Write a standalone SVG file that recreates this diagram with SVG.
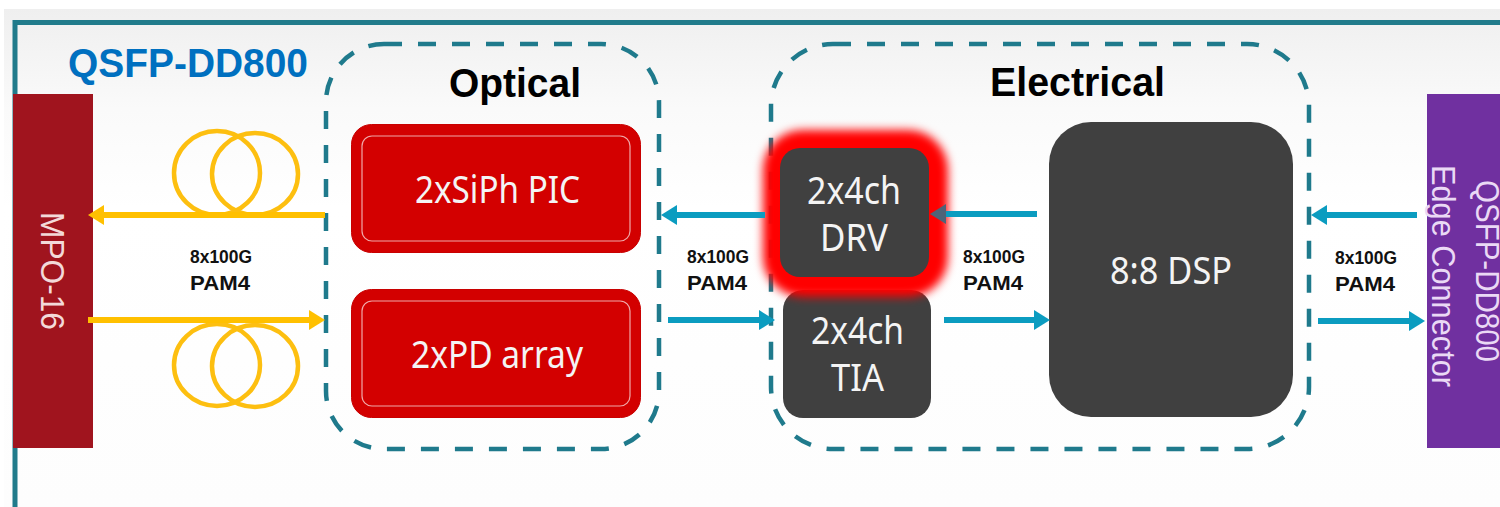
<svg xmlns="http://www.w3.org/2000/svg" width="1500" height="507" viewBox="0 0 1500 507">
<style>
.box{fill:none;stroke:#1f7a8c;stroke-width:4.5;stroke-dasharray:18 16}
.red{fill:#d30000;stroke:#c80000}
.inner{fill:none;stroke:#f0a8a8;stroke-width:1.2}
.dark{fill:#404040}
.lbl{font-family:"Noto Sans","Liberation Sans",sans-serif;font-size:38px;fill:#f4f4f4;text-anchor:start}
.head{font-family:"Liberation Sans",Arial,sans-serif;font-weight:bold;font-size:40px;fill:#000}
.rate{font-family:"Liberation Sans",Arial,sans-serif;font-weight:bold;fill:#111}
.side{font-family:"Liberation Sans",Arial,sans-serif;font-size:33px}
.y{stroke:#ffc000;stroke-width:6;fill:none}
.b{stroke:#0b9cc0;stroke-width:6;fill:none}
.coil{fill:none;stroke:#fdbf10;stroke-width:4.500}
</style>
<defs>
<linearGradient id="bg" x1="0" y1="0" x2="0" y2="1"><stop offset="0" stop-color="#efefef"/><stop offset=".2" stop-color="#fafafa"/><stop offset=".4" stop-color="#fff"/><stop offset="1" stop-color="#fdfdfd"/></linearGradient>
<filter id="glow" x="-30%" y="-30%" width="160%" height="160%"><feGaussianBlur stdDeviation="5"/></filter>
<marker id="ay" markerUnits="userSpaceOnUse" markerWidth="18" markerHeight="22" refX="2" refY="10" orient="auto"><path d="M0,0L16,10L0,20z" fill="#ffc000"/></marker>
<marker id="ab" markerUnits="userSpaceOnUse" markerWidth="18" markerHeight="22" refX="2" refY="10" orient="auto"><path d="M0,0L16,10L0,20z" fill="#0b9cc0"/></marker>
<marker id="ad" markerUnits="userSpaceOnUse" markerWidth="18" markerHeight="22" refX="2" refY="10" orient="auto"><path d="M0,0L16,10L0,20z" fill="#4f6478"/></marker>
</defs>
<rect width="1500" height="507" fill="#fff"/>
<rect x="4" y="9" width="1496" height="498" fill="url(#bg)"/>
<path d="M15,507V22.500H1500" fill="none" stroke="#217b8b" stroke-width="5"/>
<text x="68" y="77" font-family="'Liberation Sans',Arial,sans-serif" font-weight="bold" font-size="40" fill="#0070c0" textLength="240" lengthAdjust="spacingAndGlyphs">QSFP-DD800</text>

<g id="optical"><rect class="box" x="326" y="44" width="333" height="405" rx="58"/><text class="head" x="449" y="97" textLength="132" lengthAdjust="spacingAndGlyphs">Optical</text></g>
<g id="electrical"><rect class="box" x="771" y="44" width="538" height="405" rx="62"/><text class="head" x="990" y="96" textLength="175" lengthAdjust="spacingAndGlyphs">Electrical</text></g>

<g id="mpo"><rect x="13" y="94" width="80" height="354" fill="#a0141e"/><text class="side" fill="#f3d9d9" transform="translate(41,212) rotate(90)" textLength="118" lengthAdjust="spacingAndGlyphs">MPO-16</text></g>
<g id="connector-edge"><rect x="1427" y="94" width="73" height="354" fill="#7030a0"/><text class="side" fill="#ead9f5" transform="translate(1476,180) rotate(90)" textLength="182" lengthAdjust="spacingAndGlyphs">QSFP-DD800</text><text class="side" fill="#ead9f5" transform="translate(1432,165) rotate(90)" textLength="222" lengthAdjust="spacingAndGlyphs">Edge Connector</text></g>

<g id="coils"><ellipse class="coil" cx="217" cy="173" rx="43" ry="42"/><ellipse class="coil" cx="255" cy="174" rx="43" ry="41"/><ellipse class="coil" cx="217" cy="365" rx="43" ry="41"/><ellipse class="coil" cx="255" cy="366" rx="43" ry="41"/></g>

<g id="sipic"><rect class="red" x="351.500" y="124.500" width="289" height="128" rx="20"/><rect class="inner" x="362" y="136" width="268" height="105" rx="10"/><text class="lbl" x="415" y="203" textLength="165" lengthAdjust="spacingAndGlyphs">2xSiPh PIC</text></g>
<g id="pd"><rect class="red" x="351.500" y="289.500" width="289" height="128" rx="20"/><rect class="inner" x="362" y="301" width="268" height="105" rx="10"/><text class="lbl" x="411" y="368" textLength="172" lengthAdjust="spacingAndGlyphs">2xPD array</text></g>

<g id="tia"><rect class="dark" x="783" y="290" width="148" height="128" rx="20"/><text class="lbl" x="811" y="344" textLength="93" lengthAdjust="spacingAndGlyphs">2x4ch</text><text class="lbl" x="831" y="391" textLength="53" lengthAdjust="spacingAndGlyphs">TIA</text></g>
<g id="drv"><rect x="763" y="130" width="185" height="167" rx="40" fill="#ff0000" filter="url(#glow)"/><rect class="dark" x="780" y="148" width="149" height="129" rx="20"/><text class="lbl" x="807" y="204" textLength="94" lengthAdjust="spacingAndGlyphs">2x4ch</text><text class="lbl" x="820" y="251" textLength="68" lengthAdjust="spacingAndGlyphs">DRV</text></g>
<g id="dsp"><rect class="dark" x="1049" y="122" width="244" height="295" rx="42"/><text class="lbl" x="1110" y="284" textLength="122" lengthAdjust="spacingAndGlyphs">8:8 DSP</text></g>

<g id="connectors">
<line class="y" x1="325" y1="215" x2="102" y2="215" marker-end="url(#ay)"/>
<line class="y" x1="88" y1="320" x2="311" y2="320" marker-end="url(#ay)"/>
<line class="b" x1="765" y1="215" x2="675" y2="215" marker-end="url(#ab)"/>
<line class="b" x1="668" y1="320" x2="761" y2="320" marker-end="url(#ab)"/>
<line class="b" x1="1037" y1="214" x2="944" y2="214" marker-end="url(#ad)"/>
<line class="b" x1="944" y1="320" x2="1036" y2="320" marker-end="url(#ab)"/>
<line class="b" x1="1417" y1="215" x2="1325" y2="215" marker-end="url(#ab)"/>
<line class="b" x1="1318" y1="321" x2="1411" y2="321" marker-end="url(#ab)"/>
</g>

<g id="labels">
<text class="rate" x="190" y="263" font-size="18" textLength="62" lengthAdjust="spacingAndGlyphs">8x100G</text><text class="rate" x="190" y="290" font-size="21" textLength="60" lengthAdjust="spacingAndGlyphs">PAM4</text>
<text class="rate" x="687" y="263" font-size="18" textLength="62" lengthAdjust="spacingAndGlyphs">8x100G</text><text class="rate" x="687" y="290" font-size="21" textLength="60" lengthAdjust="spacingAndGlyphs">PAM4</text>
<text class="rate" x="963" y="263" font-size="18" textLength="62" lengthAdjust="spacingAndGlyphs">8x100G</text><text class="rate" x="963" y="290" font-size="21" textLength="60" lengthAdjust="spacingAndGlyphs">PAM4</text>
<text class="rate" x="1335" y="264" font-size="18" textLength="62" lengthAdjust="spacingAndGlyphs">8x100G</text><text class="rate" x="1335" y="291" font-size="21" textLength="60" lengthAdjust="spacingAndGlyphs">PAM4</text>
</g>
</svg>
